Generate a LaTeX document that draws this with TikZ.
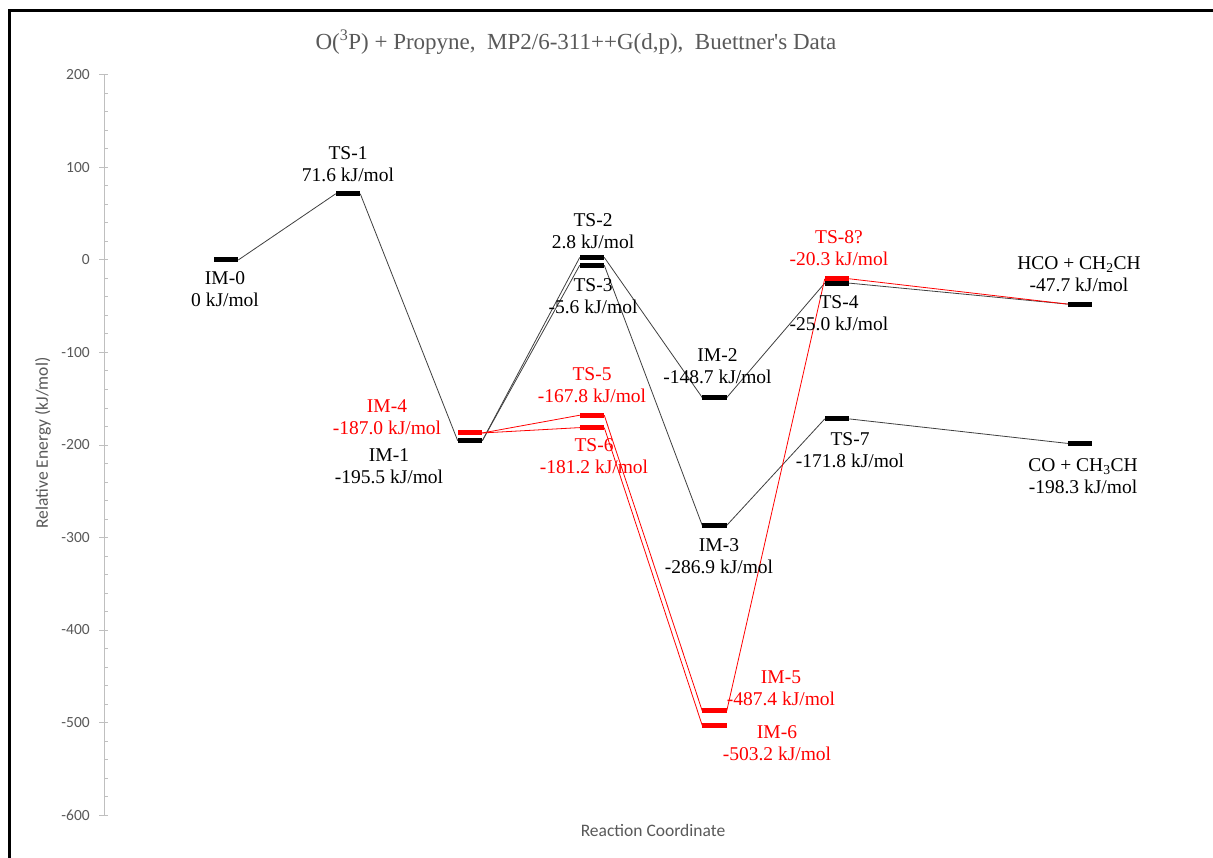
\documentclass[tikz,border=0pt]{standalone}
\usepackage{fontspec}
\setmainfont{Liberation Serif}
\newfontfamily\calfont{Carlito}
\definecolor{axgray}{RGB}{191,191,191}
\definecolor{txgray}{RGB}{89,89,89}
\begin{document}
\begin{tikzpicture}[x=1pt,y=-1pt,
  bar/.style={rectangle,draw=none,fill=black,minimum width=24.5pt,minimum height=5pt,inner sep=0pt,outer sep=0pt},
  rbar/.style={bar,fill=red},
  conn/.style={draw=black!75,line width=0.8pt},
  rconn/.style={draw=red,line width=0.8pt},
  lab/.style={align=center,font=\fontsize{19.5}{22}\selectfont,inner sep=0pt,text=black},
  rlab/.style={lab,text=red},
  axline/.style={draw=axgray,line width=1pt},
  ticklab/.style={anchor=east,inner sep=0pt,text=txgray,font=\calfont\fontsize{15.5}{18}\selectfont},
  axtitle/.style={inner sep=0pt,text=txgray,font=\calfont\fontsize{17.5}{20}\selectfont}
]
\useasboundingbox (0,0) rectangle (1213,858);
\fill[white] (0,0) rectangle (1213,858);
% frame
\draw[line width=3pt] (9,858) -- (9,11) -- (1213,11);
% title
\node[inner sep=0pt,text=txgray,font=\fontsize{23}{26}\selectfont] (title) at (576,42) {O(\textsuperscript{3}P) + Propyne,\ \ MP2/6-311++G(d,p),\ \ Buettner\textquotesingle s Data};
% axis
\draw[axline] (104,75) -- (104,815);
\foreach \v in {200,100,0,-100,-200,-300,-400,-500,-600}{
  \draw[axline] (99,{260-0.925*\v}) -- (108,{260-0.925*\v});
  \node[ticklab] at (90,{260-0.925*\v}) {\v};
}
\foreach \v in {180,160,...,-580}{
  \draw[axline] (104,{260-0.925*\v}) -- (108,{260-0.925*\v});
}
\node[axtitle,rotate=90] (ytitle) at (43,443) {Relative Energy (kJ/mol)};
\node[axtitle] (xtitle) at (653,830) {Reaction Coordinate};
% level positions
\coordinate (cim0) at (226,260);
\coordinate (cts1) at (348,193.77);
\coordinate (cim1) at (470,440.84);
\coordinate (cim4) at (470,432.98);
\coordinate (cts2) at (592,257.41);
\coordinate (cts3) at (592,265.18);
\coordinate (cts5) at (592,415.22);
\coordinate (cts6) at (592,427.61);
\coordinate (cim2) at (714.5,397.55);
\coordinate (cim3) at (714.5,525.38);
\coordinate (cim5) at (714.5,710.85);
\coordinate (cim6) at (714.5,725.46);
\coordinate (cts8) at (837,278.78);
\coordinate (cts4) at (837,283.13);
\coordinate (cts7) at (837,418.92);
\coordinate (chco) at (1080,304.12);
\coordinate (cco) at (1080,443.43);
% bars
\node[rbar] (im4) at (cim4) {};
\node[bar] (im0) at (cim0) {};
\node[bar] (ts1) at (cts1) {};
\node[bar] (im1) at (cim1) {};
\node[bar] (ts2) at (cts2) {};
\node[bar] (ts3) at (cts3) {};
\node[rbar] (ts5) at (cts5) {};
\node[rbar] (ts6) at (cts6) {};
\node[bar] (im2) at (cim2) {};
\node[bar] (im3) at (cim3) {};
\node[rbar] (im5) at (cim5) {};
\node[rbar] (im6) at (cim6) {};
\node[rbar] (ts8) at (cts8) {};
\node[bar] (ts4) at (cts4) {};
\node[bar] (ts7) at (cts7) {};
\node[bar] (hco) at (chco) {};
\node[bar] (co) at (cco) {};
% connectors
\draw[conn] (im0.east) -- (ts1.west);
\draw[conn] (ts1.east) -- (im1.west);
\draw[conn] (im1.east) -- (ts2.west);
\draw[conn] (im1.east) -- (ts3.west);
\draw[conn] (ts2.east) -- (im2.west);
\draw[conn] (ts3.east) -- (im3.west);
\draw[conn] (im2.east) -- (ts4.west);
\draw[conn] (im3.east) -- (ts7.west);
\draw[conn] (ts4.east) -- (hco.west);
\draw[conn] (ts7.east) -- (co.west);
\draw[rconn] (im4.east) -- (ts5.west);
\draw[rconn] (im4.east) -- (ts6.west);
\draw[rconn] (ts5.east) -- (im5.west);
\draw[rconn] (ts6.east) -- (im6.west);
\draw[rconn] (im5.east) -- (ts8.west);
\draw[rconn] (ts8.east) -- (hco.west);
% labels
\node[lab] (lim0) at (225,289) {IM-0\\0 kJ/mol};
\node[lab] (lts1) at (348,164) {TS-1\\71.6 kJ/mol};
\node[rlab] (lim4) at (387,417) {IM-4\\-187.0 kJ/mol};
\node[lab] (lim1) at (389,466) {IM-1\\-195.5 kJ/mol};
\node[lab] (lts2) at (593,231) {TS-2\\2.8 kJ/mol};
\node[lab] (lts3) at (593,296) {TS-3\\-5.6 kJ/mol};
\node[rlab] (lts5) at (592,385) {TS-5\\-167.8 kJ/mol};
\node[rlab] (lts6) at (594,456) {TS-6\\-181.2 kJ/mol};
\node[lab] (lim2) at (717.5,366) {IM-2\\-148.7 kJ/mol};
\node[lab] (lim3) at (719,556) {IM-3\\-286.9 kJ/mol};
\node[rlab] (lim5) at (781,688) {IM-5\\-487.4 kJ/mol};
\node[rlab] (lim6) at (777,743) {IM-6\\-503.2 kJ/mol};
\node[rlab] (lts8) at (839,248) {TS-8?\\-20.3 kJ/mol};
\node[lab] (lts4) at (839,313) {TS-4\\-25.0 kJ/mol};
\node[lab] (lts7) at (850,450) {TS-7\\-171.8 kJ/mol};
\node[lab] (lhco) at (1079,274) {HCO + CH\textsubscript{2}CH\\-47.7 kJ/mol};
\node[lab] (lco) at (1083,476) {CO + CH\textsubscript{3}CH\\-198.3 kJ/mol};
% bars again on top of connectors
\fill[red] ([xshift=-12.25pt,yshift=2.5pt]cim4) rectangle ([xshift=12.25pt,yshift=-2.5pt]cim4);
\foreach \c in {cim0,cts1,cim1,cts2,cts3,cim2,cim3,cco,chco,cts7}{
  \fill[black] ([xshift=-12.25pt,yshift=2.5pt]\c) rectangle ([xshift=12.25pt,yshift=-2.5pt]\c);
}
\foreach \c in {cts5,cts6,cim5,cim6,cts8}{
  \fill[red] ([xshift=-12.25pt,yshift=2.5pt]\c) rectangle ([xshift=12.25pt,yshift=-2.5pt]\c);
}
\fill[black] ([xshift=-12.25pt,yshift=2.5pt]cts4) rectangle ([xshift=12.25pt,yshift=-2.5pt]cts4);
\end{tikzpicture}
\end{document}
